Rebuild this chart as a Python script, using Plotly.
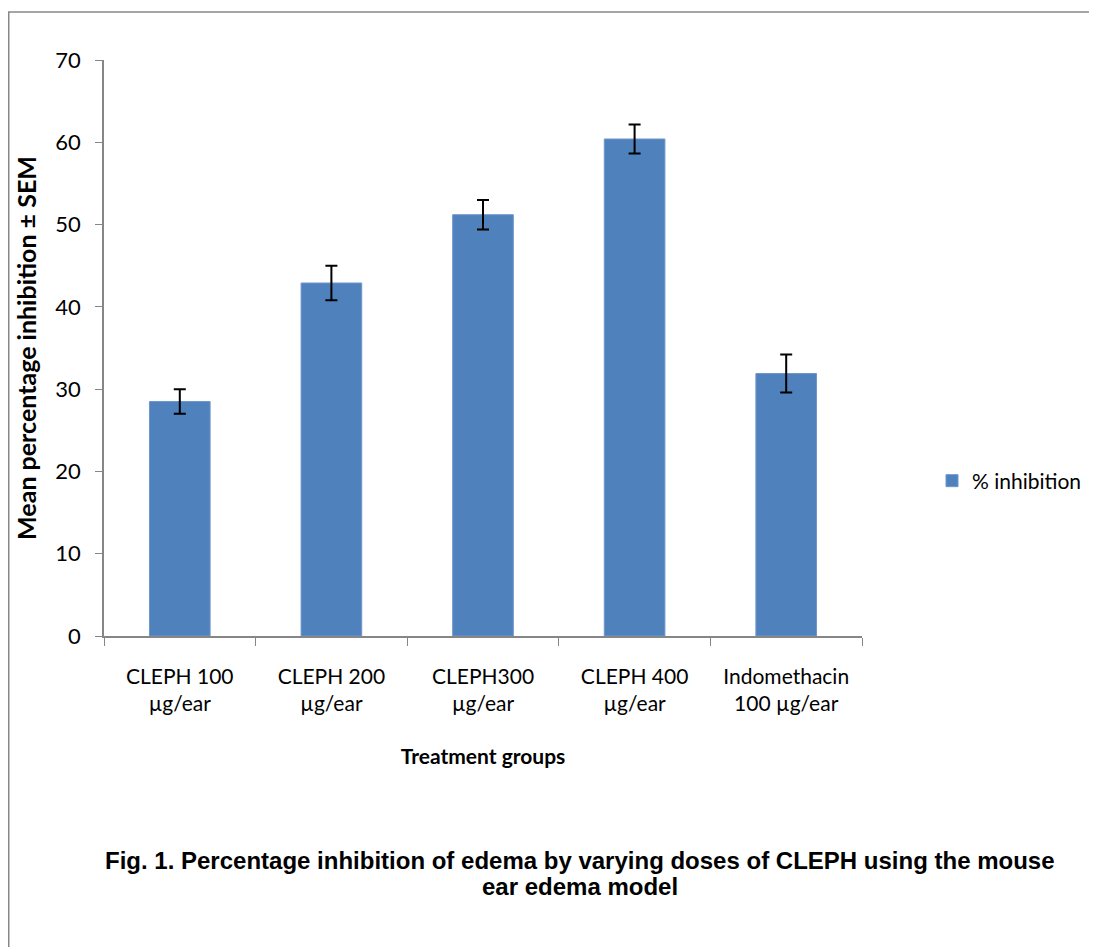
import plotly.graph_objects as go

categories = ["CLEPH 100<br>µg/ear", "CLEPH 200<br>µg/ear", "CLEPH300<br>µg/ear",
              "CLEPH 400<br>µg/ear", "Indomethacin<br>100 µg/ear"]
inhibition = [28.5, 42.9, 51.2, 60.4, 31.9]
sem = [1.5, 2.1, 1.8, 1.75, 2.3]
y_ticks = [0, 10, 20, 30, 40, 50, 60, 70]
caption_lines = ["<b>Fig. 1. Percentage inhibition of edema by varying doses of CLEPH using the mouse</b>",
                 "<b>ear edema model</b>"]

W, H = 1097, 947
OFF = 8  # page body margin offset
L, R, T, B = 104 - OFF, 862 - OFF, 60 - OFF, 636 - OFF

fig = go.Figure()
fig.add_trace(go.Bar(
    x=categories, y=inhibition, name="% inhibition",
    marker=dict(color="#4f81bd", line=dict(color="#6f97cc", width=1)),
    error_y=dict(type="data", array=sem, visible=True, color="black", thickness=2, width=6),
))

def px_x(p):
    return (p - OFF - L) / (R - L)

def px_y(p):
    return (B - (p - OFF)) / (B - T)

fig.add_shape(type="line", xref="paper", yref="paper",
              x0=px_x(8.75), x1=px_x(8.75), y0=px_y(12), y1=px_y(960),
              line=dict(color="#878787", width=1.5))
fig.add_shape(type="line", xref="paper", yref="paper",
              x0=px_x(8), x1=px_x(1110), y0=px_y(12), y1=px_y(12),
              line=dict(color="#878787", width=1.5))

for text, ypos in zip(caption_lines, [860, 886]):
    fig.add_annotation(
        xref="paper", yref="paper", x=px_x(580), y=px_y(ypos),
        text=text, showarrow=False, align="center", xanchor="center", yanchor="middle",
        font=dict(family="Liberation Sans, Arial", size=24, color="black"),
    )

fig.update_layout(
    width=W, height=H,
    margin=dict(l=L, r=W - R, t=T, b=H - B),
    paper_bgcolor="white", plot_bgcolor="white",
    font=dict(family="Lato", size=22, color="black"),
    bargap=0.6,
    showlegend=True,
    legend=dict(xref="container", yref="container",
                x=(932 - OFF) / W, y=1 - (481 - OFF) / H, xanchor="left", yanchor="middle",
                font=dict(family="Lato", size=21, color="black"),
                bgcolor="rgba(0,0,0,0)"),
    xaxis=dict(
        showline=True, linecolor="#868686", linewidth=1.5,
        ticks="outside", tickson="boundaries", ticklen=8, tickcolor="#868686",
        tickfont=dict(family="Lato", size=21), ticklabelstandoff=21,
        title=dict(text="<b>Treatment groups</b>", font=dict(family="Lato", size=21), standoff=35),
    ),
    yaxis=dict(
        range=[0, 70], tickvals=y_ticks, showgrid=False, zeroline=False,
        showline=True, linecolor="#868686", linewidth=1.5,
        ticks="outside", ticklen=7, tickcolor="#868686",
        tickfont=dict(family="Lato", size=22), ticklabelstandoff=10,
        title=dict(text="<b>Mean percentage inhibition ± SEM</b>", font=dict(family="Lato", size=25), standoff=12),
    ),
)

fig.write_html("out.html")
